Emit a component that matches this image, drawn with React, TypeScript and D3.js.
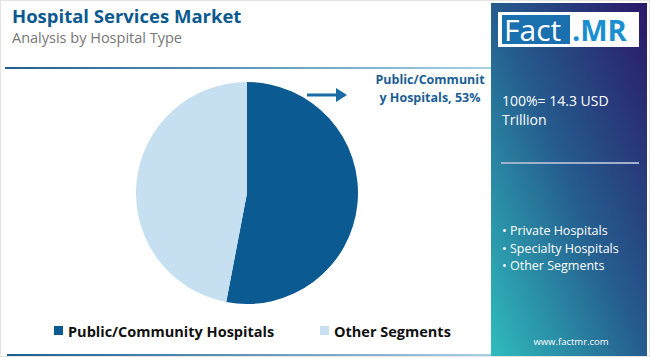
import React from "react";
import * as d3 from "d3";

const categories = ["Public/Community Hospitals", "Other Segments"];
const values = [53, 47];
const colors = ["#0b5a91", "#c6e0f1"];
const bulletItems = ["Private Hospitals", "Specialty Hospitals", "Other Segments"];
const totalLabel = ["100%= 14.3 USD", "Trillion"];

const W = 650;
const H = 357;
const FONT = "'Open Sans', 'Noto Sans', sans-serif";

export default function App() {
  const cx = 247;
  const cy = 193;
  const r = 111;
  const pie = d3.pie<number>().sort(null)(values);
  const arc = d3.arc<d3.PieArcDatum<number>>().innerRadius(0).outerRadius(r);

  return (
    <svg width={W} height={H} style={{ position: "absolute", left: 0, top: 0, display: "block" }}>
      <defs>
        <linearGradient id="panelGrad" x1="1" y1="0" x2="0" y2="1">
          <stop offset="0" stopColor="#2b1868" />
          <stop offset="0.5" stopColor="#255c8e" />
          <stop offset="1" stopColor="#2fbcbd" />
        </linearGradient>
        <linearGradient id="lineGrad" x1="0" y1="0" x2="1" y2="0">
          <stop offset="0" stopColor="#1f5f8f" />
          <stop offset="1" stopColor="#a9cfe6" />
        </linearGradient>
      </defs>
      <rect x={0} y={0} width={W} height={H} fill="#ffffff" />
      <rect x={0.5} y={0.5} width={W - 1} height={H - 1} fill="none" stroke="#e4e4e4" />

      <text x={12} y={23} fontFamily={FONT} fontWeight={700} fontSize={18.5} fill="#0b5a8f">
        Hospital Services Market
      </text>
      <text x={12} y={43} fontFamily={FONT} fontSize={14.5} fill="#777777">
        Analysis by Hospital Type
      </text>
      <rect x={5} y={67} width={487} height={2} fill="url(#lineGrad)" />
      <rect x={7} y={354} width={485} height={2} fill="url(#lineGrad)" />

      <g transform={`translate(${cx},${cy})`}>
        {pie.map((d, i) => (
          <path key={categories[i]} d={arc(d) || ""} fill={colors[i]} />
        ))}
      </g>

      <line x1={307} y1={95} x2={338} y2={95} stroke="#1a6aa5" strokeWidth={3} />
      <path d="M336,88 L347,95 L336,102 Z" fill="#1a6aa5" />
      <text fontFamily={FONT} fontWeight={700} fontSize={12.5} fill="#1a5e95" textAnchor="middle">
        <tspan x={430} y={84}>Public/Communit</tspan>
        <tspan x={430} y={102}>{`y Hospitals, ${values[0]}%`}</tspan>
      </text>

      <rect x={54} y={326} width={9} height={9} fill={colors[0]} />
      <text x={68} y={337} fontFamily={FONT} fontWeight={700} fontSize={14.5} fill="#111111">
        {categories[0]}
      </text>
      <rect x={320} y={326} width={9} height={9} fill={colors[1]} />
      <text x={334} y={337} fontFamily={FONT} fontWeight={700} fontSize={14.5} fill="#111111">
        {categories[1]}
      </text>

      <rect x={491} y={3} width={156} height={353} fill="url(#panelGrad)" />
      <rect x={498} y={12} width={141} height={35} fill="#ffffff" />
      <rect x={502} y={15} width={68} height={29} fill="#1a70ae" />
      <text x={504} y={41} fontFamily={FONT} fontSize={30} fill="#ffffff">Fact</text>
      <text x={572} y={41} fontFamily={FONT} fontWeight={700} fontSize={29} fill="#1a8fd0">.MR</text>

      <text fontFamily={FONT} fontSize={14} fill="#ffffff">
        <tspan x={502} y={106}>{totalLabel[0]}</tspan>
        <tspan x={502} y={125}>{totalLabel[1]}</tspan>
      </text>
      <line x1={501} y1={163} x2={639} y2={163} stroke="#9fb0cc" strokeWidth={2} />
      {bulletItems.map((b, i) => (
        <text key={b} x={502} y={235 + i * 17.5} fontFamily={FONT} fontSize={12.5} fill="#ffffff">
          {`• ${b}`}
        </text>
      ))}
      <text x={571} y={345} fontFamily={FONT} fontSize={9.5} fill="#ffffff" textAnchor="middle">
        www.factmr.com
      </text>
    </svg>
  );
}
